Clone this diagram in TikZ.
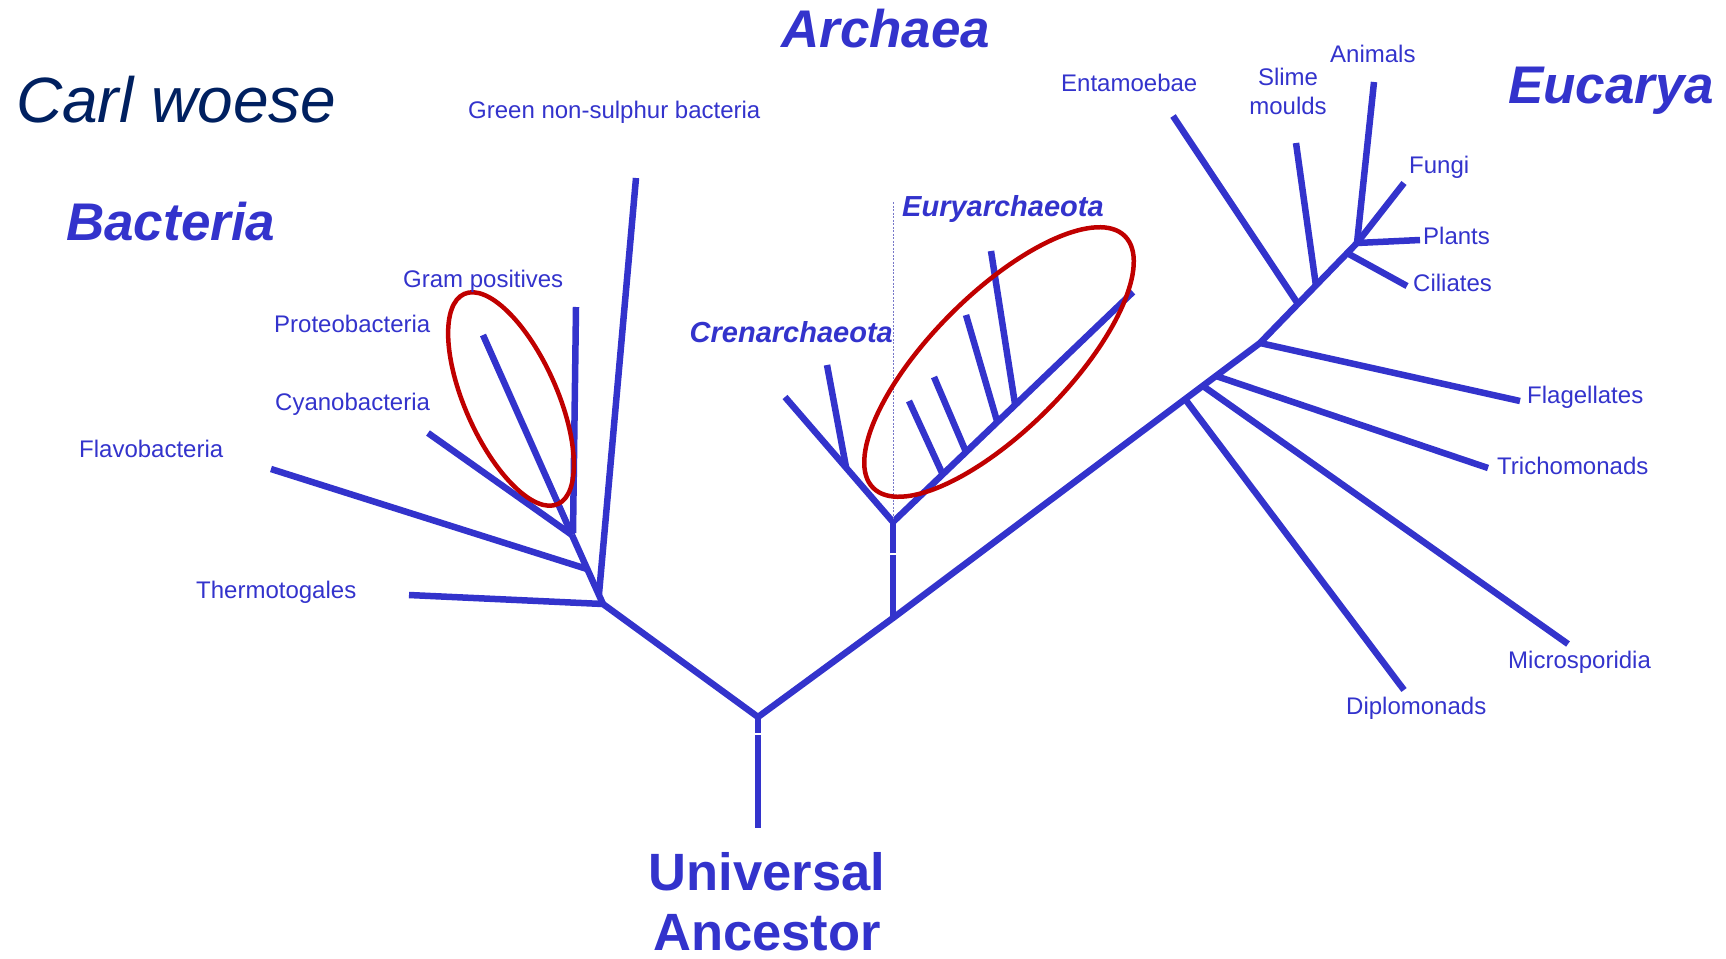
\documentclass[tikz,border=0pt]{standalone}
\usepackage{fontspec}
\setmainfont{Liberation Sans}
\definecolor{tblue}{RGB}{51,51,204}
\definecolor{tred}{RGB}{192,0,0}
\definecolor{tnavy}{RGB}{0,32,96}
\definecolor{dotc}{RGB}{120,120,200}
\begin{document}
\begin{tikzpicture}[x=1pt,y=-1pt,
  br/.style={draw=tblue,line width=6.5pt},
  ring/.style={draw=tred,line width=4.5pt},
  lab/.style={text=tblue,inner sep=0pt,font=\fontsize{24}{28}\selectfont},
  big/.style={text=tblue,inner sep=0pt,font=\fontsize{53}{60}\selectfont\bfseries\itshape},
  mid/.style={text=tblue,inner sep=0pt,font=\fontsize{29}{34}\selectfont\bfseries\itshape},
  anc/.style={text=tblue,inner sep=0pt,font=\fontsize{52.5}{60}\selectfont\bfseries}]
\useasboundingbox (0,0) rectangle (1726,958);

% ---------- coordinates ----------
\coordinate (Rbot) at (758,828);
\coordinate (Rg2) at (758,734.8);
\coordinate (Rg1) at (758,733.4);
\coordinate (R) at (758,717);
\coordinate (B) at (603,604);
\coordinate (A) at (893,618);
\coordinate (E0) at (1260,343);
\coordinate (Et) at (1357,243);
% bacteria
\coordinate (B1) at (587,569);
\coordinate (B2) at (572,535);
\coordinate (Gb) at (599,594);
\coordinate (Gt) at (636,178);
\coordinate (Th) at (409,595);
\coordinate (Fl) at (271,469);
\coordinate (Cy) at (428,433);
\coordinate (Pr) at (483,335);
\coordinate (Gpt) at (576,307);
\coordinate (Gpb) at (573,533);
% archaea
\coordinate (Ag1) at (893,554.7);
\coordinate (Ag2) at (893,553.3);
\coordinate (A2) at (893,522);
\coordinate (Cl) at (785,397);
\coordinate (Cj) at (846,467);
\coordinate (Cs) at (827,365);
\coordinate (Eu) at (1133,292);
\coordinate (J1) at (943,475);
\coordinate (J2) at (966,452);
\coordinate (J3) at (997,421);
\coordinate (J4) at (1015,404);
\coordinate (L1) at (909,401);
\coordinate (L2) at (934,377);
\coordinate (L3) at (966,315);
\coordinate (L4) at (991,251);
\coordinate (Dt) at (893,202);
\coordinate (Db) at (893,520);
% eucarya
\coordinate (Dj) at (1185,399);
\coordinate (Mj) at (1203,386);
\coordinate (Tj) at (1216,376);
\coordinate (Ej) at (1298,304);
\coordinate (Sj) at (1316,286);
\coordinate (Cij) at (1347,253);
\coordinate (Ent) at (1173,116);
\coordinate (Sli) at (1296,143);
\coordinate (Ani) at (1374,82);
\coordinate (Fun) at (1404,183);
\coordinate (Pla) at (1420,240);
\coordinate (Cil) at (1407,286);
\coordinate (Fla) at (1520,401);
\coordinate (Tri) at (1488,468);
\coordinate (Mic) at (1568,644);
\coordinate (Dip) at (1404,690);
\coordinate (EEc) at (999,362);
\coordinate (BEc) at (511,399);

% ---------- branches ----------
\draw[br] (R) -- (Rg1);
\draw[br] (Rg2) -- (Rbot);
\draw[br] (B) -- (R) -- (A) -- (E0) -- (Et);
% bacteria
\draw[br] (B) -- (B2);
\draw[br] (Gt) -- (Gb);
\draw[br] (Th) -- (B);
\draw[br] (Fl) -- (B1);
\draw[br] (Cy) -- (B2);
\draw[br] (Pr) -- (B2);
\draw[br] (Gpt) -- (Gpb);
% archaea
\draw[br] (A) -- (Ag1);
\draw[br] (Ag2) -- (A2);
\draw[br] (Cl) -- (A2) -- (Eu);
\draw[br] (Cs) -- (Cj);
\draw[br] (L1) -- (J1);
\draw[br] (L2) -- (J2);
\draw[br] (L3) -- (J3);
\draw[br] (L4) -- (J4);
\draw[dotc,line width=0.8pt,dash pattern=on 2pt off 1.5pt] (Dt) -- (Db);
% eucarya
\draw[br] (Ent) -- (Ej);
\draw[br] (Sli) -- (Sj);
\draw[br] (Ani) -- (Et);
\draw[br] (Fun) -- (Et);
\draw[br] (Pla) -- (Et);
\draw[br] (Cil) -- (Cij);
\draw[br] (Fla) -- (E0);
\draw[br] (Tri) -- (Tj);
\draw[br] (Mic) -- (Mj);
\draw[br] (Dip) -- (Dj);

% ---------- rings ----------
\draw[ring,rotate around={45:(EEc)}] (EEc) ellipse [x radius=178pt, y radius=68pt];
\draw[ring,rotate around={-66:(BEc)}] (BEc) ellipse [x radius=115pt, y radius=46pt];

% ---------- labels ----------
\node[inner sep=0pt,anchor=base west,text=tnavy,font=\fontsize{64}{70}\selectfont\itshape] (tCarl) at (16,122) {Carl woese};
\node[big,anchor=base west] (tBac) at (66,240) {Bacteria};
\node[big,anchor=base west] (tArc) at (781,48) {Archaea};
\node[big,anchor=base west] (tEuc) at (1508,103) {Eucarya};
\node[mid,anchor=base west] (tEury) at (902,216) {Euryarchaeota};
\node[mid,anchor=base east] (tCren) at (893,342) {Crenarchaeota};
\node[anc,anchor=base] (tUni) at (767,890) {Universal};
\node[anc,anchor=base] (tAnc) at (767,950) {Ancestor};

\node[lab,anchor=base west] (tGreen) at (468,118) {Green non-sulphur bacteria};
\node[lab,anchor=base west] (tGram) at (403,287) {Gram positives};
\node[lab,anchor=base west] (tProt) at (274,332) {Proteobacteria};
\node[lab,anchor=base west] (tCyan) at (275,410) {Cyanobacteria};
\node[lab,anchor=base west] (tFlav) at (79,457) {Flavobacteria};
\node[lab,anchor=base west] (tTher) at (196,598) {Thermotogales};
\node[lab,anchor=base west] (tEnt) at (1061,91) {Entamoebae};
\node[lab,anchor=base] (tSli1) at (1288,85) {Slime};
\node[lab,anchor=base] (tSli2) at (1288,114) {moulds};
\node[lab,anchor=base west] (tAni) at (1330,63) {Animals};
\node[lab,anchor=base west] (tFun) at (1409,173) {Fungi};
\node[lab,anchor=base west] (tPla) at (1423,244) {Plants};
\node[lab,anchor=base west] (tCil) at (1413,291) {Ciliates};
\node[lab,anchor=base west] (tFla) at (1527,403) {Flagellates};
\node[lab,anchor=base west] (tTri) at (1497,474) {Trichomonads};
\node[lab,anchor=base west] (tMic) at (1508,668) {Microsporidia};
\node[lab,anchor=base west] (tDip) at (1346,714) {Diplomonads};
\end{tikzpicture}
\end{document}
